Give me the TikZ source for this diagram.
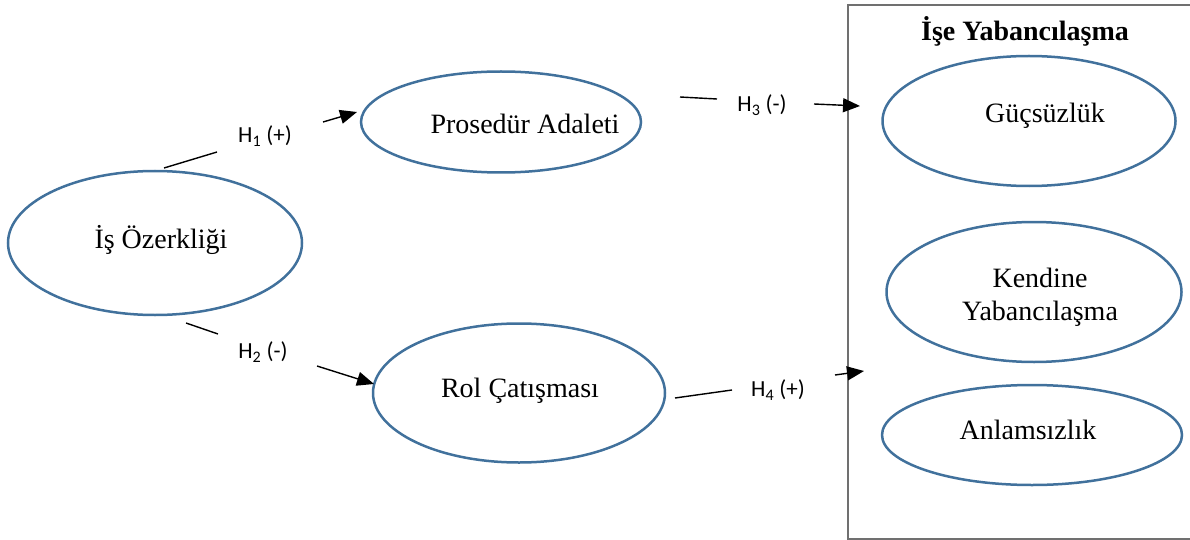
\documentclass[tikz,border=0pt]{standalone}
\usepackage{fontspec}
\setmainfont{Liberation Serif}
\newfontfamily\lblfont{Carlito}
\usetikzlibrary{arrows.meta,shapes.geometric}
\definecolor{ovalblue}{HTML}{41719C}
\definecolor{boxgray}{HTML}{707070}
\tikzset{
  oval/.style={ellipse, draw=ovalblue, line width=2.5pt, inner sep=0pt},
  txt/.style={font=\fontsize{28}{33}\selectfont, align=center, inner sep=0pt},
  hlbl/.style={font=\lblfont\fontsize{23}{26}\selectfont, inner sep=0pt},
  seg/.style={line width=1.4pt, black},
  arr/.style={line width=1.4pt, black, -{Triangle[length=17pt,width=14pt]}}
}
\begin{document}
\begin{tikzpicture}[x=1pt,y=-1pt]
\useasboundingbox (0,0) rectangle (1190,540);
% group box
\draw[boxgray, line width=1.5pt] (1192,5) -- (848,5) -- (848,539) -- (1192,539);
\node[txt, font=\fontsize{28}{31}\selectfont\bfseries] (title) at (1025,31) {İşe Yabancılaşma};
% ellipses
\node[oval, minimum width=294pt, minimum height=144pt] (oz) at (155,243) {};
\node[oval, minimum width=280pt, minimum height=101pt] (pa) at (501,122) {};
\node[oval, minimum width=292pt, minimum height=139pt] (rc) at (519,393) {};
\node[oval, minimum width=293pt, minimum height=130pt] (gu) at (1029,121) {};
\node[oval, minimum width=295pt, minimum height=140pt] (ky) at (1034,292) {};
\node[oval, minimum width=300pt, minimum height=100pt] (an) at (1032,435) {};
% texts
\node[txt] (toz) at (161,240) {İş Özerkliği};
\node[txt] (tpa) at (525,124) {Prosedür Adaleti};
\node[txt] (trc) at (520,391) {Rol Çatışması};
\node[txt] (tgu) at (1045,116) {Güçsüzlük};
\node[txt] (tky) at (1040,297) {Kendine\\Yabancılaşma};
\node[txt] (tan) at (1028,430) {Anlamsızlık};
% H1
\coordinate (h1a) at (164,168);
\coordinate (h1b) at (217,152);
\coordinate (h1c) at (323,122);
\coordinate (h1d) at (357,112);
\node[hlbl] (h1) at (265,136) {H\textsubscript{1} (+)};
\draw[seg] (h1a) -- (h1b);
\draw[arr] (h1c) -- (h1d);
% H2
\coordinate (h2a) at (186,323);
\coordinate (h2b) at (218,334);
\coordinate (h2c) at (317,366);
\coordinate (h2d) at (374,384);
\node[hlbl] (h2) at (263,352) {H\textsubscript{2} (-)};
\draw[seg] (h2a) -- (h2b);
\draw[arr] (h2c) -- (h2d);
% H3
\coordinate (h3a) at (680,97);
\coordinate (h3b) at (717,99);
\coordinate (h3c) at (814,104);
\coordinate (h3d) at (860,106);
\node[hlbl] (h3) at (762,105) {H\textsubscript{3} (-)};
\draw[seg] (h3a) -- (h3b);
\draw[arr] (h3c) -- (h3d);
% H4
\coordinate (h4a) at (675,398);
\coordinate (h4b) at (732,390);
\coordinate (h4c) at (835,375);
\coordinate (h4d) at (864,371);
\node[hlbl] (h4) at (778,390) {H\textsubscript{4} (+)};
\draw[seg] (h4a) -- (h4b);
\draw[arr] (h4c) -- (h4d);
\end{tikzpicture}
\end{document}
